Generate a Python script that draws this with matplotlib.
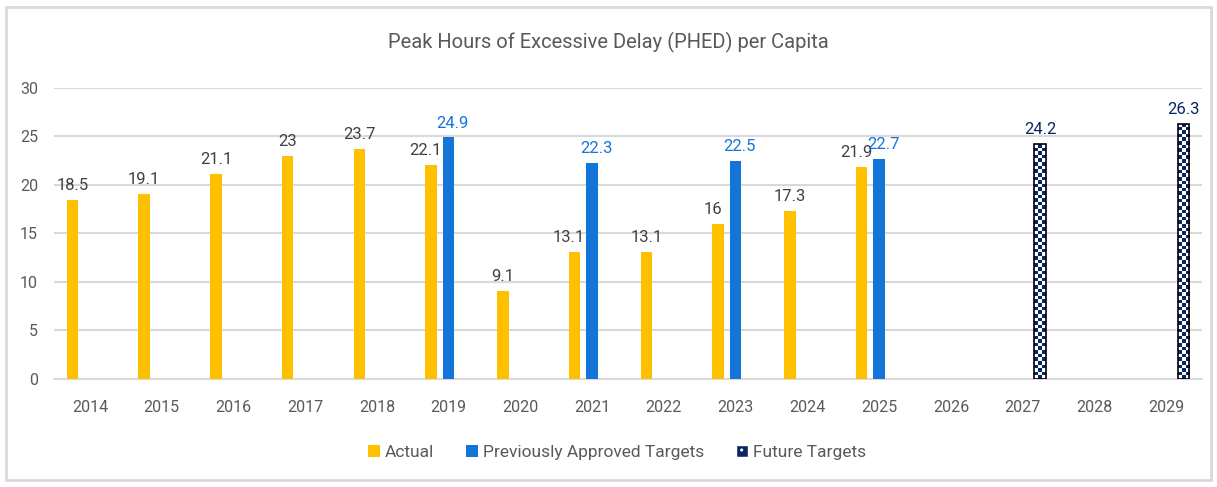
import numpy as np
import matplotlib.pyplot as plt
from matplotlib.colors import ListedColormap
from matplotlib.patches import Patch, Rectangle

years = [str(y) for y in range(2014, 2030)]
actual = [18.5, 19.1, 21.1, 23, 23.7, 22.1, 9.1, 13.1, 13.1, 16, 17.3, 21.9,
          None, None, None, None]
approved = [None, None, None, None, None, 24.9, None, 22.3, None, 22.5, None, 22.7,
            None, None, None, None]
future = [None] * 13 + [24.2, None, 26.3]

GOLD = '#FFC000'
BLUE = '#1474D8'
NAVY = '#0B2463'
GRID = '#D9D9D9'
TXT = '#595959'

plt.rcParams['font.family'] = ['Roboto', 'DejaVu Sans']

fig = plt.figure(figsize=(12.17, 4.87), dpi=100)
ax = fig.add_axes([0.0444, 0.2218, 0.9433, 0.5975])

x = np.arange(len(years))
width = 0.16
step = 0.244
checker = ListedColormap(['white', NAVY])


def draw(vals, offset, color, label_color, pattern=False, others=None, nudge=0):
    for i, (xi, v) in enumerate(zip(x, vals)):
        if v is None:
            continue
        xc = xi + offset
        if pattern:
            # checkerboard fill clipped to the bar outline
            rows = int(round(v / 0.37))
            img = (np.indices((rows, 3)).sum(axis=0) % 2).astype(float)
            im = ax.imshow(img, cmap=checker, extent=(xc - width / 2, xc + width / 2, 0, v),
                           aspect='auto', interpolation='nearest', zorder=3)
            rect = Rectangle((xc - width / 2, 0), width, v, fill=False,
                             edgecolor='black', lw=1.2, zorder=4)
            ax.add_patch(rect)
            im.set_clip_path(rect)
        else:
            ax.bar(xc, v, width=width, color=color, zorder=3)
        # push labels apart when two bars share a year
        dx = nudge if (others and others[i] is not None) else 0
        ax.annotate('%g' % v, (xc, v), xytext=(dx, 5), textcoords='offset points',
                    ha='center', va='bottom', fontsize=12, color=label_color)


draw(actual, -step, GOLD, '#404040', others=approved, nudge=-4)
draw(approved, 0, BLUE, BLUE, others=actual, nudge=3)
draw(future, step, NAVY, NAVY, pattern=True)

ax.set_xlim(-0.5, len(years) - 0.5)
ax.set_ylim(0, 30)
ax.set_yticks(range(0, 31, 5))
ax.set_xticks(x)
ax.set_xticklabels(years)
ax.grid(axis='y', color=GRID, lw=1.5, zorder=0)
ax.set_axisbelow(True)
for s in ['top', 'right', 'left']:
    ax.spines[s].set_visible(False)
ax.spines['bottom'].set_color(GRID)
ax.spines['bottom'].set_linewidth(1.5)
ax.tick_params(axis='both', length=0, labelsize=11.5, labelcolor=TXT)
ax.tick_params(axis='y', pad=11.5)
ax.tick_params(axis='x', pad=15)

fig.text(0.5, 0.913, 'Peak Hours of Excessive Delay (PHED) per Capita',
         ha='center', va='center', fontsize=14.5, color=TXT)

handles = [Patch(facecolor=GOLD), Patch(facecolor=BLUE),
           Patch(facecolor=NAVY, edgecolor='white', hatch='..')]
fig.legend(handles, ['Actual', 'Previously Approved Targets', 'Future Targets'],
           loc='center', bbox_to_anchor=(0.507, 0.07), ncol=3, frameon=False,
           fontsize=12.5, labelcolor=TXT, handlelength=0.7, handleheight=0.7,
           handletextpad=0.3, columnspacing=1.8)

fig.patches.append(Rectangle((0.005, 0.014), 0.99, 0.972, transform=fig.transFigure,
                             fill=False, edgecolor=GRID, lw=2))

fig.savefig('out.png', dpi=100)
